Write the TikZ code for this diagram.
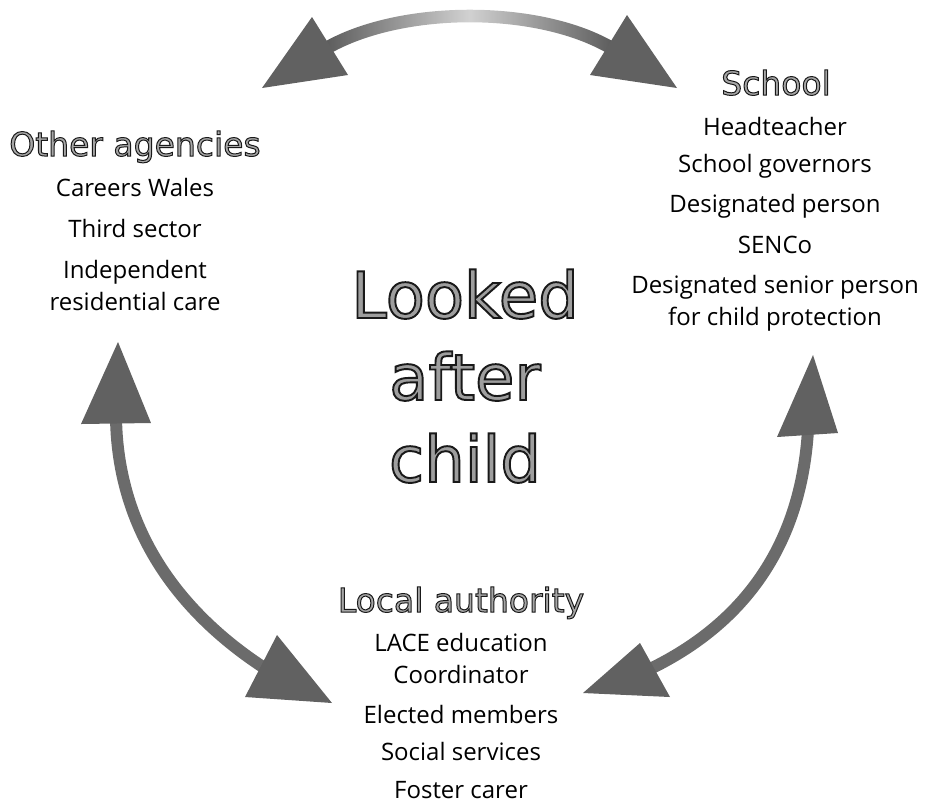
\documentclass[tikz,border=0pt]{standalone}
\usepackage{fontspec}
\setmainfont{Open Sans}
\newfontfamily\headfont[FakeBold=3]{DejaVu Sans}
\newcommand\outlined[2]{{\color{#1}\special{pdf:literal direct 0.1 G}#2}}
\begin{document}
\begin{tikzpicture}[x=1pt,y=-1pt,
  item/.style={anchor=base,inner sep=0pt,align=center,font=\fontsize{24}{32}\selectfont},
  heading/.style={anchor=base,inner sep=0pt,font=\headfont\fontsize{33}{34}\selectfont},
  title/.style={anchor=base,inner sep=0pt,align=center,font=\headfont\fontsize{64}{82}\selectfont},
  headfill/.style={fill=black!62}]
\useasboundingbox (0,0) rectangle (925,807);

% ---------- texts (multi-line nodes: base = last line) ----------
\node[heading] (oa) at (135,156) {\outlined{black!35}{Other agencies}};
\node[item] (oa1) at (135,196) {Careers Wales};
\node[item] (oa2) at (135,237) {Third sector};
\node[item] (oa3) at (135,310) {Independent\\residential care};

\node[heading] (sc) at (776,95) {\outlined{black!35}{School}};
\node[item] (sc1) at (775,135) {Headteacher};
\node[item] (sc2) at (775,172) {School governors};
\node[item] (sc3) at (775,212) {Designated person};
\node[item] (sc4) at (775,253) {SENCo};
\node[item] (sc5) at (775,325) {Designated senior person\\for child protection};

\node[heading] (la) at (461,612) {\outlined{black!35}{Local authority}};
\node[item] (la1) at (461,683) {LACE education\\Coordinator};
\node[item] (la2) at (461,723) {Elected members};
\node[item] (la3) at (461,760) {Social services};
\node[item] (la4) at (461,798) {Foster carer};

\node[title] (lac) at (465,482) {\outlined{black!38}{Looked}\\\outlined{black!38}{after}\\\outlined{black!38}{child}};

% ---------- arrow end points ----------
\coordinate (tl) at (262,88);   % top arrow, left tip
\coordinate (tr) at (677,88);   % top arrow, right tip
\coordinate (lt) at (118,342);  % left arrow, top tip
\coordinate (lb) at (332,703);  % left arrow, bottom tip
\coordinate (rt) at (813,355);  % right arrow, top tip
\coordinate (rb) at (583,693);  % right arrow, bottom tip

% ---------- top arrow (oa <-> sc) ----------
\shade[left color=black!65,right color=black!65,middle color=black!18]
  (321.7,43.4) .. controls (398,-1.5) and (542,-1.5) .. (616.4,43.4)
  -- (609.6,54.6) .. controls (538,11.5) and (402,11.5) .. (328.3,54.6) -- cycle;
\fill[headfill] (tl) -- (312,17) -- (348,75) -- cycle;
\fill[headfill] (tr) -- (627,15) -- (590,75) -- cycle;

% ---------- left arrow (oa <-> la) ----------
\draw[black!58,line width=12pt] (116,418) .. controls (118,540) and (190,620) .. (266,669);
\fill[headfill] (lt) -- (81,424) -- (151,423) -- cycle;
\fill[headfill] (lb) -- (277,635) -- (245,697) -- cycle;

% ---------- right arrow (sc <-> la) ----------
\draw[black!58,line width=12pt] (808,430) .. controls (800,560) and (730,630) .. (650,669);
\fill[headfill] (rt) -- (777,437) -- (838,433) -- cycle;
\fill[headfill] (rb) -- (640,643) -- (670,697) -- cycle;
\end{tikzpicture}
\end{document}
